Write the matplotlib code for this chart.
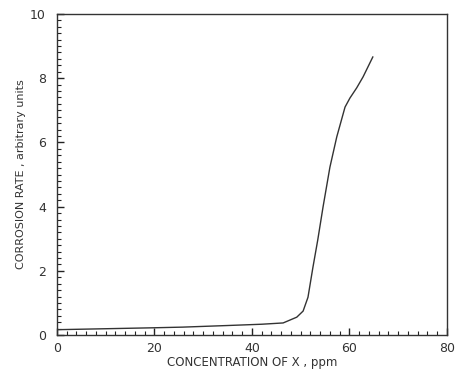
#!/usr/bin/env python3
# -*- encoding: utf-8 -*-

import matplotlib
import matplotlib.pyplot as plt
from matplotlib.ticker import MultipleLocator

matplotlib.use("Agg")

# Values
conc_ppm = [0, 10, 20, 25.8, 35, 42, 46.4, 47.8, 49.2, 50.5, 51.5, 52.5,
            53.5, 54.6, 56.0, 57.4, 59.1, 60.1, 61.5, 62.8, 64.8]
corr_rate = [0.17, 0.2, 0.23, 0.25, 0.3, 0.34, 0.38, 0.47, 0.56, 0.75, 1.18, 2.1,
             2.96, 4.0, 5.23, 6.17, 7.1, 7.38, 7.7, 8.04, 8.66]

X_TICKS = [0, 20, 40, 60, 80]
Y_TICKS = [0, 2, 4, 6, 8, 10]


def main():
    fig = plt.figure(figsize=(4.56, 3.77), dpi=100)
    ax = fig.add_axes([0.125, 0.111, 0.855, 0.852])

    ax.plot(conc_ppm, corr_rate, color="#333333", lw=1.0)

    ax.set_xlim(0, 80)
    ax.set_ylim(0, 10)
    ax.set_xticks(X_TICKS)
    ax.set_yticks(Y_TICKS)
    ax.xaxis.set_minor_locator(MultipleLocator(2))
    ax.yaxis.set_minor_locator(MultipleLocator(0.2))
    ax.tick_params(which="both", direction="in", color="#222222",
                   labelsize=9, labelcolor="#333333")
    ax.tick_params(which="major", length=5, width=1.0)
    ax.tick_params(which="minor", length=3, width=0.8)
    ax.tick_params(axis="y", which="major", pad=8)
    ax.tick_params(axis="x", which="major", pad=5)
    ax.tick_params(top=False, right=False)

    for sp in ax.spines.values():
        sp.set_color("#333333")
        sp.set_linewidth(1.0)

    ax.set_xlabel("CONCENTRATION OF X , ppm", fontsize=8.5, color="#333333",
                  labelpad=1)
    ax.set_ylabel("CORROSION RATE , arbitrary units", fontsize=8, color="#333333",
                  labelpad=3)

    fig.savefig("out.png", dpi=100)


if __name__ == "__main__":
    main()
